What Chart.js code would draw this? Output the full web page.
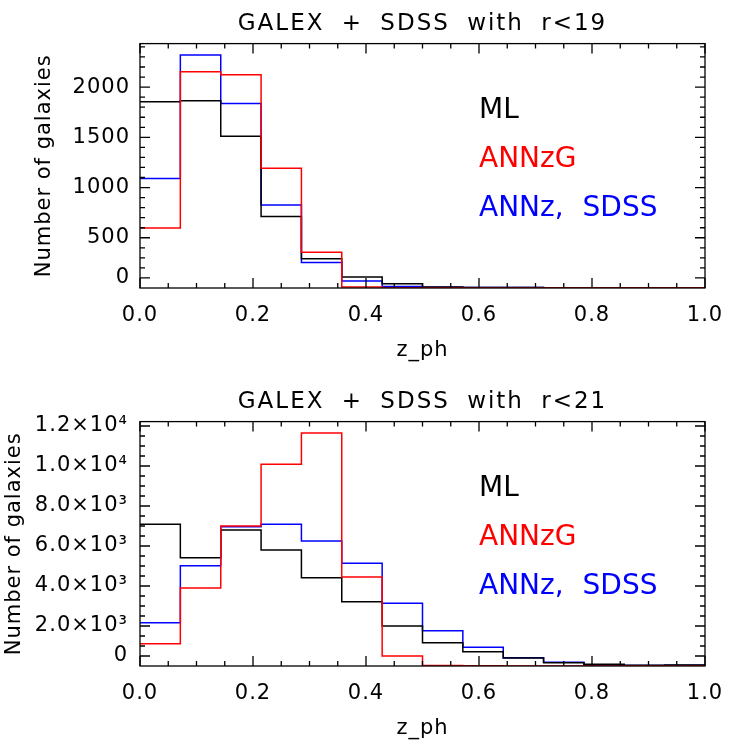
<!DOCTYPE html>
<html><head><meta charset="utf-8">
<script src="https://cdn.jsdelivr.net/npm/chart.js@4/dist/chart.umd.min.js"></script>
<style>
html,body{margin:0;padding:0;background:#fff;}
#wrap{position:relative;width:747px;height:756px;}
.panel{position:absolute;left:0;width:747px;height:378px;}
</style></head><body>
<div id="wrap">
<div class="panel" style="top:0"><canvas id="c1" width="747" height="378"></canvas></div>
<div class="panel" style="top:378px"><canvas id="c2" width="747" height="378"></canvas></div>
</div>
<script>
// ---- data ----
const binEdges = [0, 0.0714, 0.1429, 0.2143, 0.2857, 0.3571, 0.4286, 0.5, 0.5714, 0.6429, 0.7143, 0.7857, 0.8571, 0.9286, 1.0];
const seriesNames = ['ML', 'ANNzG', 'ANNz, SDSS'];

const titleR19 = 'GALEX + SDSS with r<19';
const mlR19    = [1855, 1865, 1510, 713, 292, 110, 43, 10, 6, 4, 3, 2, 2, 2];
const annzgR19 = [598, 2154, 2124, 1191, 355, 10, 3, 2, 1, 1, 1, 0, 0, 0];
const annzR19  = [1089, 2320, 1836, 826, 255, 70, 16, 8, 5, 4, 3, 2, 2, 2];
const yTicksR19  = [100, 500, 1000, 1500, 2000];
const yLabelsR19 = ['0', '500', '1000', '1500', '2000'];
const yMinorR19  = [200, 300, 400, 600, 700, 800, 900, 1100, 1200, 1300, 1400, 1600, 1700, 1800, 1900, 2100, 2200, 2300, 2400];

const titleR21 = 'GALEX + SDSS with r<21';
const mlR21    = [7085, 5417, 6800, 5800, 4417, 3217, 2000, 1167, 717, 400, 167, 83, 35, 50];
const annzgR21 = [1117, 3900, 7000, 10083, 11650, 4450, 500, 30, 10, 5, 5, 5, 5, 5];
const annzR21  = [2167, 5017, 6960, 7083, 6250, 5133, 3133, 1767, 933, 417, 183, 50, 30, 40];
const yTicksR21  = [500, 2000, 4000, 6000, 8000, 10000, 12000];
const yLabelsR21 = ['0', '2.0×10³', '4.0×10³', '6.0×10³', '8.0×10³', '1.0×10⁴', '1.2×10⁴'];
const yMinorR21  = [1000, 1500, 2500, 3000, 3500, 4500, 5000, 5500, 6500, 7000, 7500, 8500, 9000, 9500, 10500, 11000, 11500];

const xTicks  = [0, 0.2, 0.4, 0.6, 0.8, 1.0];
const xLabels = ['0.0', '0.2', '0.4', '0.6', '0.8', '1.0'];
const xMinor  = [0.05, 0.1, 0.15, 0.25, 0.3, 0.35, 0.45, 0.5, 0.55, 0.65, 0.7, 0.75, 0.85, 0.9, 0.95];

// ---- styling ----
const FONT = 'DejaVu Sans';
Chart.defaults.font.family = FONT;
Chart.defaults.color = '#000';

function steps(values) {
  const pts = values.map((v, i) => ({x: binEdges[i], y: v}));
  pts.push({x: binEdges[binEdges.length - 1], y: values[values.length - 1]});
  return pts;
}

const spacingPlugin = {
  id: 'spacing',
  afterInit(chart) {
    const tb = chart.titleBlock;
    if (tb && !tb._wrapped) {
      const orig = tb.draw.bind(tb);
      tb.draw = function (a) {
        const c = chart.ctx;
        const ca = chart.chartArea;
        const dx = (ca.left + ca.right) / 2 - (tb.left + tb.right) / 2;
        c.save(); c.letterSpacing = '2px'; c.wordSpacing = '8px';
        c.translate(dx, 0);
        orig(a);
        c.restore();
      };
      tb._wrapped = true;
    }
  },
  beforeLayout(chart) { chart.ctx.letterSpacing = '1px'; },
  beforeDraw(chart) { chart.ctx.letterSpacing = '1px'; }
};

const framePlugin = {
  id: 'frame',
  afterDatasetsDraw(chart, args, o) {
    const {ctx, chartArea: a, scales: {x, y}} = chart;
    ctx.save();
    ctx.strokeStyle = '#000';
    ctx.lineWidth = 1.3;
    ctx.strokeRect(a.left, a.top, a.right - a.left, a.bottom - a.top);
    ctx.beginPath();
    const vt = (vals, len) => vals.forEach(v => {
      const p = x.getPixelForValue(v);
      ctx.moveTo(p, a.bottom); ctx.lineTo(p, a.bottom - len);
      ctx.moveTo(p, a.top); ctx.lineTo(p, a.top + len);
    });
    const ht = (vals, len) => vals.forEach(v => {
      const p = y.getPixelForValue(v);
      ctx.moveTo(a.left, p); ctx.lineTo(a.left + len, p);
      ctx.moveTo(a.right, p); ctx.lineTo(a.right - len, p);
    });
    vt(xTicks, 10); vt(xMinor, 5);
    ht(o.yMajor, 10); ht(o.yMinor, 5);
    ctx.stroke();
    ctx.restore();
  }
};

const labelPlugin = {
  id: 'seriesLabels',
  afterDraw(chart, args, o) {
    const {ctx, chartArea: a, scales: {x}} = chart;
    ctx.save();
    ctx.font = '28px "' + FONT + '"';
    ctx.letterSpacing = '0px';
    ctx.wordSpacing = '10px';
    ctx.textAlign = 'left';
    ctx.textBaseline = 'alphabetic';
    const px = x.getPixelForValue(o.xPos);
    chart.data.datasets.slice().sort((p, q) => p.legendRank - q.legendRank).forEach((ds, i) => {
      ctx.fillStyle = ds.borderColor;
      ctx.fillText(ds.label, px, a.top + o.rows[i] * (a.bottom - a.top));
    });
    ctx.restore();
  }
};

function makeChart(id, title, ml, annzg, annz, yMax, yTicks, yLabels, yMinor, yTitlePad, yTickPad) {
  return new Chart(document.getElementById(id), {
    type: 'line',
    data: {
      datasets: [
        {label: seriesNames[1], data: steps(annzg), borderColor: '#ff0000', legendRank: 1},
        {label: seriesNames[0], data: steps(ml), borderColor: '#000000', legendRank: 0},
        {label: seriesNames[2], data: steps(annz), borderColor: '#0000ff', legendRank: 2}
      ].map(d => Object.assign(d, {stepped: 'before', borderWidth: 1.5, pointRadius: 0, fill: false, tension: 0}))
    },
    options: {
      responsive: false,
      animation: false,
      events: [],
      layout: {padding: {left: 0, right: 42, top: 0, bottom: 0}},
      plugins: {
        legend: {display: false},
        tooltip: {enabled: false},
        title: {display: true, text: title, font: {size: 23, weight: 'normal'}, color: '#000', padding: {top: 10, bottom: 6}},
        frame: {yMajor: yTicks, yMinor: yMinor},
        seriesLabels: {xPos: 0.6, rows: [0.304, 0.503, 0.704]}
      },
      scales: {
        x: {
          type: 'linear', min: 0, max: 1,
          grid: {display: false, drawTicks: false},
          border: {display: false},
          afterBuildTicks: s => { s.ticks = xTicks.map(v => ({value: v})); },
          afterFit: s => { s.height = 90; },
          ticks: {autoSkip: false, maxRotation: 0, padding: 15, font: {size: 21}, color: '#000',
                  callback: (v, i) => xLabels[i]},
          title: {display: true, text: 'z_ph', font: {size: 21}, color: '#000', padding: {top: 0, bottom: 15}}
        },
        y: {
          type: 'linear', min: 0, max: yMax,
          grid: {display: false, drawTicks: false},
          border: {display: false},
          afterBuildTicks: s => { s.ticks = yTicks.map(v => ({value: v})); },
          afterFit: s => { s.width = 140; },
          ticks: {autoSkip: false, padding: yTickPad, font: {size: 21}, color: '#000',
                  callback: (v, i) => yLabels[i]},
          title: {display: true, text: 'Number of galaxies', font: {size: 21}, color: '#000', padding: {top: yTitlePad, bottom: 0}}
        }
      }
    },
    plugins: [spacingPlugin, framePlugin, labelPlugin]
  });
}

makeChart('c1', titleR19, mlR19, annzgR19, annzR19, 2433, yTicksR19, yLabelsR19, yMinorR19, 32, 10);
makeChart('c2', titleR21, mlR21, annzgR21, annzR21, 12220, yTicksR21, yLabelsR21, yMinorR21, 1.5, 12);
</script>
</body></html>
